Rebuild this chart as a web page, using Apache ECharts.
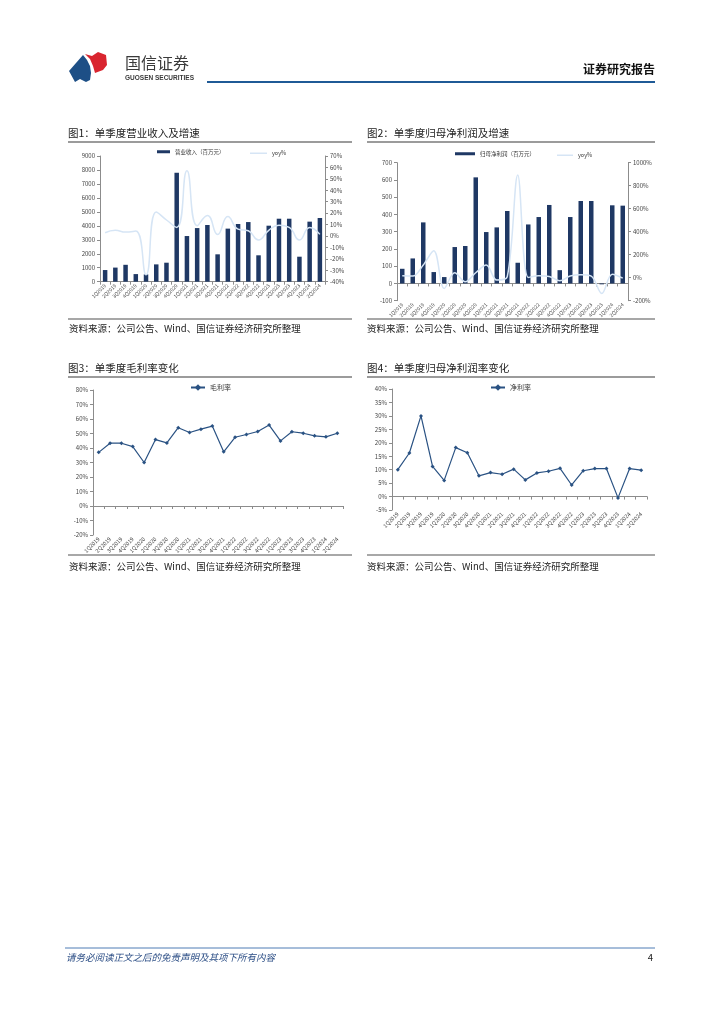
<!DOCTYPE html>
<html><head><meta charset="utf-8">
<script src="https://cdn.jsdelivr.net/npm/echarts@6/dist/echarts.min.js"></script>
<style>html,body{margin:0;padding:0;background:#fff}#c{width:724px;height:1024px}</style>
</head><body><div id="c"></div>
<script>
const categories = ['1Q2019','2Q2019','3Q2019','4Q2019','1Q2020','2Q2020','3Q2020','4Q2020','1Q2021','2Q2021','3Q2021','4Q2021','1Q2022','2Q2022','3Q2022','4Q2022','1Q2023','2Q2023','3Q2023','4Q2023','1Q2024','2Q2024'];
const revenue = [835,1010,1210,545,525,1240,1360,7800,3270,3840,4060,1960,3800,4130,4270,1890,4010,4510,4510,1790,4300,4560];
const revenueYoy = [2.8,5,3.4,4.3,-34,21,14,7.5,57,9,18,1.4,17,6,4.6,-3.5,5,9.5,7.5,-3.5,7.5,1.4];
const profit = [85,145,354,66,37,211,217,615,298,325,420,120,342,385,455,77,385,478,478,-5,453,451];
const profitYoy = [16,14,110,234,-94,43,-35,43,110,-21,8,892,2,16,10,-27,14,25,14,-137,31,-4];
const grossMargin = [37,43.3,43.3,41,30,45.8,43.5,54,50.7,53,55.1,37.4,47.4,49.3,51.4,55.8,44.9,51.2,50.2,48.4,47.7,50.2];
const netMargin = [10,16.2,30,11.2,6,18.2,16.3,7.7,8.9,8.3,10.2,6.2,8.8,9.4,10.5,4.3,9.6,10.4,10.4,-0.5,10.4,9.8];

const FONT = '"Noto Sans CJK SC","Noto Sans",sans-serif';
const BAR = '#1f3864';
const LIGHT = '#d6e5f5';
const LINE = '#2a5283';
const AX = '#8c8c8c';

function catAxis(gridIndex, fontSize) {
  return {type:'category', gridIndex, data:categories, boundaryGap:true,
    axisLine:{show:true, onZero:true, lineStyle:{color:AX, width:1}},
    axisTick:{show:true, length:3, lineStyle:{color:AX}},
    axisLabel:{rotate:45, interval:0, fontSize, color:'#444', margin:3, fontFamily:FONT},
    splitLine:{show:false}};
}
function valAxis(gridIndex, min, max, interval, position, fmt) {
  return {type:'value', gridIndex, min, max, interval, position,
    axisLine:{show:true, lineStyle:{color:AX, width:1}},
    axisTick:{show:true, length:3, lineStyle:{color:AX}},
    axisLabel:{fontSize:6, color:'#444', margin:5, fontFamily:FONT, formatter:fmt},
    splitLine:{show:false}};
}
const pct = v => v + '%';
const num = v => String(v);

function text(x, y, t, font, fill, align) {
  return {type:'text', x, y, style:{text:t, font, fill:fill||'#222', textAlign:align||'left', textVerticalAlign:'middle'}, silent:true};
}
function hline(x1, x2, y, color, w) {
  return {type:'line', shape:{x1, y1:y, x2, y2:y}, style:{stroke:color, lineWidth:w}, silent:true};
}

const graphic = [
  {type:'polygon', shape:{points:[[69,71],[83,55],[87,60],[90,66],[91,73],[90,80],[86,82],[80,79],[75,82]]}, style:{fill:'#1d4f86'}},
  {type:'polygon', shape:{points:[[85,54],[92,56],[98,52],[106,55],[107,65],[103,70],[95,73],[93,66],[90,59]]}, style:{fill:'#d9252f'}},
  text(125, 63, '国信证券', '16px ' + FONT, '#3a3a3a'),
  text(125, 78, 'GUOSEN SECURITIES', 'bold 6.5px "Liberation Sans",sans-serif', '#3a3a3a'),
  hline(207, 655, 82, '#1f5a96', 2),
  text(655, 69, '证券研究报告', 'bold 12px ' + FONT, '#111', 'right'),
  text(68, 133, '图1：单季度营业收入及增速', '10.5px ' + FONT, '#222'),
  text(367, 133, '图2：单季度归母净利润及增速', '10.5px ' + FONT, '#222'),
  text(68, 368, '图3：单季度毛利率变化', '10.5px ' + FONT, '#222'),
  text(367, 368, '图4：单季度归母净利润率变化', '10.5px ' + FONT, '#222'),
  hline(68, 352, 142, '#7a7a7a', 1.5),
  hline(367, 655, 142, '#7a7a7a', 1.5),
  hline(68, 352, 377, '#7a7a7a', 1.5),
  hline(367, 655, 377, '#7a7a7a', 1.5),
  hline(68, 352, 319, '#8a8a8a', 1.5),
  hline(367, 655, 319, '#8a8a8a', 1.5),
  hline(68, 352, 555, '#a8a8a8', 2),
  hline(367, 655, 555, '#a8a8a8', 2),
  text(69, 328.5, '资料来源：公司公告、Wind、国信证券经济研究所整理', '9.5px ' + FONT, '#222'),
  text(367, 328.5, '资料来源：公司公告、Wind、国信证券经济研究所整理', '9.5px ' + FONT, '#222'),
  text(69, 566, '资料来源：公司公告、Wind、国信证券经济研究所整理', '9.5px ' + FONT, '#222'),
  text(367, 566, '资料来源：公司公告、Wind、国信证券经济研究所整理', '9.5px ' + FONT, '#222'),
  hline(65, 655, 948, '#4f7db5', 1),
  text(66, 957, '请务必阅读正文之后的免责声明及其项下所有内容', 'italic 9.5px ' + FONT, '#2d4f86'),
  text(653, 957, '4', '9.5px ' + FONT, '#222', 'right')
];

const legText = (size) => ({fontSize:size, color:'#333', fontFamily:FONT});

const option = {
  animation:false,
  backgroundColor:'#fff',
  textStyle:{fontFamily:FONT},
  graphic,
  grid:[
    {left:100, top:156, width:225, height:125.7},
    {left:397, top:162.7, width:231, height:138},
    {left:93, top:390, width:250, height:145},
    {left:392, top:389, width:255, height:121}
  ],
  legend:[
    {data:['营业收入（百万元）'], left:157, top:149, icon:'rect', itemWidth:13, itemHeight:3, itemGap:2, textStyle:legText(5.5), padding:0},
    {data:['yoy%'], left:250, top:150.5, icon:'rect', itemWidth:17, itemHeight:1.5, textStyle:legText(5.5), padding:0},
    {data:['归母净利润（百万元）'], left:455, top:151, icon:'rect', itemWidth:20, itemHeight:3, textStyle:legText(5.5), padding:0},
    {data:['yoy% '], left:557, top:152.5, icon:'rect', itemWidth:16, itemHeight:1.5, textStyle:legText(5.5), padding:0},
    {data:['毛利率'], left:190, top:384, itemWidth:14, itemHeight:8, itemGap:2, textStyle:legText(7), padding:0},
    {data:['净利率'], left:490, top:384, itemWidth:14, itemHeight:8, textStyle:legText(7), padding:0}
  ],
  xAxis:[catAxis(0,5), catAxis(1,5), catAxis(2,5.5), catAxis(3,5.5)],
  yAxis:[
    valAxis(0, 0, 9000, 1000, 'left', num),
    valAxis(0, -40, 70, 10, 'right', pct),
    valAxis(1, -100, 700, 100, 'left', num),
    valAxis(1, -200, 1000, 200, 'right', pct),
    valAxis(2, -20, 80, 10, 'left', pct),
    valAxis(3, -5, 40, 5, 'left', pct)
  ],
  series:[
    {name:'营业收入（百万元）', type:'bar', xAxisIndex:0, yAxisIndex:0, data:revenue, barWidth:4.5, itemStyle:{color:BAR}},
    {name:'yoy%', type:'line', xAxisIndex:0, yAxisIndex:1, data:revenueYoy, smooth:true, symbol:'none', lineStyle:{color:LIGHT, width:1.5}, itemStyle:{color:LIGHT}},
    {name:'归母净利润（百万元）', type:'bar', xAxisIndex:1, yAxisIndex:2, data:profit, barWidth:4.5, itemStyle:{color:BAR}},
    {name:'yoy% ', type:'line', xAxisIndex:1, yAxisIndex:3, data:profitYoy, smooth:0.35, symbol:'none', lineStyle:{color:LIGHT, width:1.5}, itemStyle:{color:LIGHT}},
    {name:'毛利率', type:'line', xAxisIndex:2, yAxisIndex:4, data:grossMargin, symbol:'diamond', symbolSize:4, lineStyle:{color:LINE, width:1.2}, itemStyle:{color:LINE}},
    {name:'净利率', type:'line', xAxisIndex:3, yAxisIndex:5, data:netMargin, symbol:'diamond', symbolSize:4, lineStyle:{color:LINE, width:1.2}, itemStyle:{color:LINE}}
  ]
};
const chart = echarts.init(document.getElementById('c'), null, {renderer:'canvas'});
chart.setOption(option);
</script>
</body></html>
